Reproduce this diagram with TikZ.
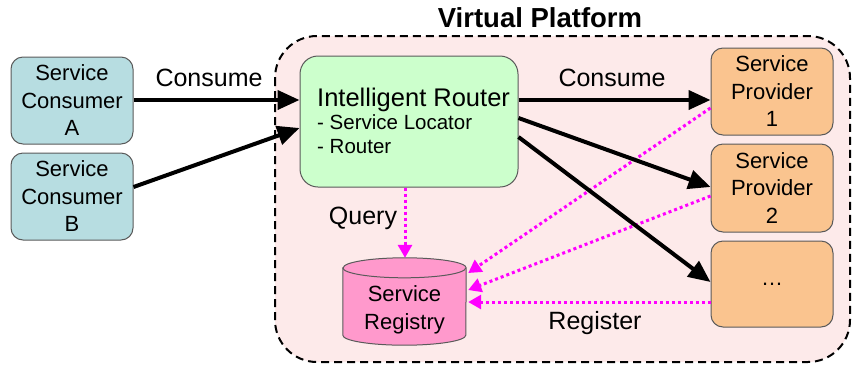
\documentclass[tikz,border=0pt]{standalone}
\usepackage{fontspec}
\setmainfont{Liberation Sans}
\usetikzlibrary{arrows.meta,calc}

\definecolor{consumerfill}{HTML}{B7DDE1}
\definecolor{routerfill}{HTML}{CCFFCC}
\definecolor{providerfill}{HTML}{FAC48F}
\definecolor{registryfill}{HTML}{FF99CC}
\definecolor{platformfill}{HTML}{FDEAEA}
\definecolor{boxline}{HTML}{5A5A5A}
\definecolor{lookup}{HTML}{FF00FF}

\tikzset{
  box/.style={draw=boxline, line width=1pt, rounded corners=12pt,
    minimum width=122pt, minimum height=87pt, inner sep=0pt,
    align=center, font=\fontsize{22}{27.5}\selectfont},
  consumer/.style={box, fill=consumerfill},
  provider/.style={box, fill=providerfill},
  label/.style={font=\fontsize{25}{30}\selectfont, inner sep=0pt},
  flow/.style={line width=4pt, -{Triangle[length=22pt,width=19pt]}},
  lookupline/.style={draw=lookup, line width=3pt, dash pattern=on 3pt off 3pt,
    -{Triangle[length=13pt,width=14pt]}, lookup},
}

\begin{document}
\begin{tikzpicture}[x=1pt, y=-1pt]
\useasboundingbox (0,0) rectangle (852,365);

% platform boundary
\draw[fill=platformfill, line width=2pt, dash pattern=on 8pt off 5pt, rounded corners=42pt]
  (275,36) rectangle (850,362);
\node[font=\fontsize{27.5}{32}\selectfont\bfseries, inner sep=0pt] (title) at (540,18) {Virtual Platform};

% consumers
\node[consumer] (ca) at (72,100.5) {Service\\Consumer\\A};
\node[consumer] (cb) at (72,196.5) {Service\\Consumer\\B};

% router
\node[draw=boxline, line width=1pt, fill=routerfill, rounded corners=18pt,
  minimum width=218pt, minimum height=131pt, inner sep=0pt] (router) at (409,121.5) {};
\node[anchor=west, align=left, inner sep=0pt, font=\fontsize{20.5}{24}\selectfont]
  (routertext) at (317,121) {{\fontsize{25.5}{30}\selectfont Intelligent Router}\\[-1pt]- Service Locator\\- Router};

% providers
\node[provider] (p1) at (772,91.5) {Service\\Provider\\1};
\node[provider, minimum height=88pt] (p2) at (772,188) {Service\\Provider\\2};
\node[provider, minimum height=86pt] (p3) at (772,284) {\dots};

% registry (drawn as a cylinder around the node)
\node[minimum width=123pt, minimum height=87pt, inner sep=0pt, align=center,
  font=\fontsize{22}{27.5}\selectfont] (reg) at (404.5,301.5) {};
\draw[draw=boxline, line width=1pt, fill=registryfill]
  ($(reg.north west)+(0,10)$) -- ($(reg.south west)+(0,-10)$)
  arc[start angle=180, end angle=360, x radius=61.5pt, y radius=10pt]
  -- ($(reg.north east)+(0,10)$)
  arc[start angle=0, end angle=180, x radius=61.5pt, y radius=10pt] -- cycle;
\draw[draw=boxline, line width=1pt] ($(reg.north west)+(0,10)$)
  arc[start angle=180, end angle=360, x radius=61.5pt, y radius=10pt];
\node[align=center, inner sep=0pt, font=\fontsize{22}{27.5}\selectfont]
  (regtext) at (404.5,310) {Service\\Registry};

% registration and lookup
\draw[lookupline] ($(p1.west)+(0,16.5)$) -- ($(reg.east)+(2,-28.5)$);
\draw[lookupline] ($(p2.west)+(0,8)$) -- ($(reg.east)+(2,-11.5)$);
\draw[lookupline] ($(p3.west)+(0,18)$) -- ($(reg.east)+(2,0.5)$);
\draw[lookupline] ($(router.south)+(-4,0)$) -- ($(reg.north)+(0.5,0)$);

% service calls
\draw[flow] ($(ca.east)+(0,-0.5)$) -- ($(router.west)+(0,-21.5)$);
\draw[flow] ($(cb.east)+(0,-9.5)$) -- ($(router.west)+(0,6.5)$);
\draw[flow] ($(router.east)+(0,-21.5)$) -- ($(p1.west)+(0,8.5)$);
\draw[flow] ($(router.east)+(0,-3.5)$) -- ($(p2.west)+(0,-1)$);
\draw[flow] ($(router.east)+(0,15.5)$) -- ($(p3.west)+(0,-2)$);

% labels
\node[label] (consumein) at (209,78) {Consume};
\node[label] (consumeout) at (612,78) {Consume};
\node[label] (query) at (363,218) {Query};
\node[label] (register) at (595,323) {Register};
\end{tikzpicture}
\end{document}
